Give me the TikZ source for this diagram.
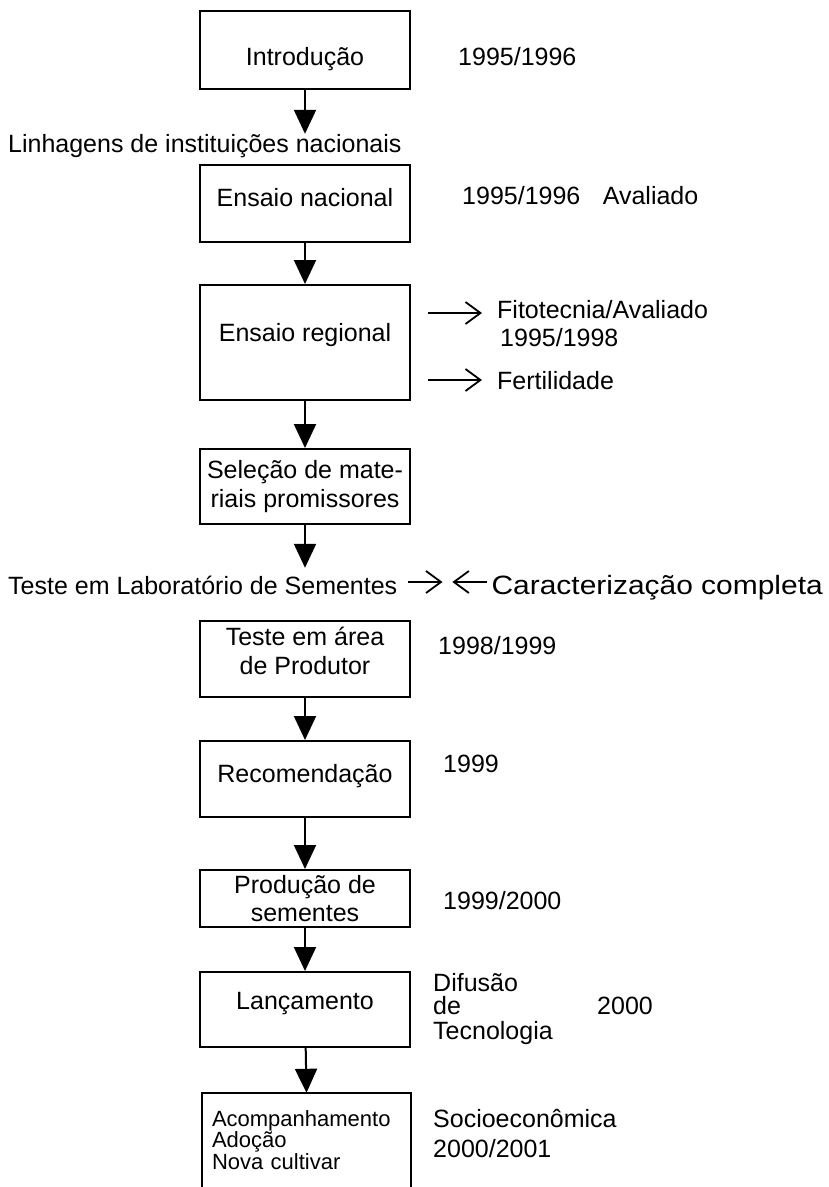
\documentclass[tikz,border=0pt]{standalone}
\usepackage{fontspec}
\usepackage{graphicx}
\setmainfont{Liberation Sans}
\usetikzlibrary{arrows.meta}

\begin{document}
\begin{tikzpicture}[
x=1pt,y=-1pt,
every node/.style={font=\fontsize{25}{28.5}\selectfont},
etapa/.style={draw,line width=2pt,minimum width=210pt,inner sep=0pt,align=center},
linha/.style={text height=18pt,text depth=#1},
linha/.default=0pt,
nota/.style={anchor=west,inner sep=0pt,text height=18pt,text depth=0pt},
seta/.style={line width=2pt,-{Triangle[length=24pt,width=22pt]}},
lado/.style={line width=1.8pt,-{Straight Barb[length=15pt,width=22pt,line width=1.8pt]}}
]
\useasboundingbox (0,0) rectangle (828,1187);

% etapas
\node[etapa,minimum height=78pt,linha,text height=30pt] (intro) at (305,50) {Introdução};
\node[nota] (linhagens) at (8,143) {Linhagens de instituições nacionais};
\node[etapa,minimum height=77pt,linha=13pt] (nacional) at (305,203.5) {Ensaio nacional};
\node[etapa,minimum height=115pt,linha=21pt] (regional) at (305,342.5) {Ensaio regional};
\node[etapa,minimum height=75pt] (selecao) at (305,486.5) {Seleção de mate-\\riais promissores};
\node[nota] (lab) at (8,585) {Teste em Laboratório de Sementes};
\node[nota,anchor=east,font=\fontsize{26.5}{30}\selectfont] (carac) at (823,585)
  {\scalebox{1.13}[1]{Caracterização completa}};
\node[etapa,minimum height=76pt,text height=46.5pt,text depth=16pt] (produtor) at (305,659) {Teste em área\\de Produtor};
\node[etapa,minimum height=76pt,linha=12pt] (recom) at (305,779) {Recomendação};
\node[etapa,minimum height=57pt] (producao) at (305,898.5) {Produção de\\sementes};
\node[etapa,minimum height=75pt,linha=19pt] (lanc) at (305,1009.5) {Lançamento};
\node[inner xsep=10pt,inner ysep=0pt,minimum width=209pt,minimum height=94pt,
  text width=189pt,align=left,font=\fontsize{22}{20.5}\selectfont] (acomp) at (306.5,1140)
  {Acompanhamento\\Adoção\\Nova cultivar};
\draw[line width=2pt] (acomp.south west) |- (acomp.north) -| (acomp.south east);

% textos ao lado
\node[nota] (ano1) at (458,56) {1995/1996};
\node[nota] (ano2) at (462,195) {1995/1996\hspace{0.9em}Avaliado};
\node[nota] (fito) at (497,309) {Fitotecnia/Avaliado};
\node[nota] (ano3) at (500,337) {1995/1998};
\node[nota] (fert) at (497,380) {Fertilidade};
\node[nota] (ano4) at (438,645) {1998/1999};
\node[nota] (ano5) at (443,763) {1999};
\node[nota] (ano6) at (443,900) {1999/2000};
\node[nota] (difusao) at (433,982) {Difusão};
\node[nota] (de) at (433,1005) {de};
\node[nota] (tecno) at (433,1030) {Tecnologia};
\node[nota] (ano7) at (597,1005) {2000};
\node[nota] (socio) at (433,1118) {Socioeconômica};
\node[nota] (ano8) at (433,1148) {2000/2001};

% setas
\draw[seta] (intro) -- (intro.south |- linhagens.north);
\draw[seta] (nacional) -- (regional);
\draw[seta] (regional) -- (selecao);
\draw[seta] (selecao) -- ([yshift=8pt]selecao.south |- lab.north);
\draw[seta] (produtor) -- (recom);
\draw[seta] (recom) -- (producao);
\draw[seta] (producao) -- (lanc);
\draw[seta] (lanc) -- (acomp.north);

\draw[lado] ([xshift=17pt,yshift=-4pt]regional.east |- fito.west) -- ([xshift=-15pt,yshift=-4pt]fito.west);
\draw[lado] ([xshift=17pt]regional.east |- fert.west) -- ([xshift=-15pt]fert.west);
\draw[lado] ([xshift=10pt,yshift=3pt]lab.east) -- ([xshift=45pt,yshift=3pt]lab.east);
\draw[lado] ([xshift=-4pt,yshift=3pt]carac.west) -- ([xshift=-39pt,yshift=3pt]carac.west);
\end{tikzpicture}
\end{document}
